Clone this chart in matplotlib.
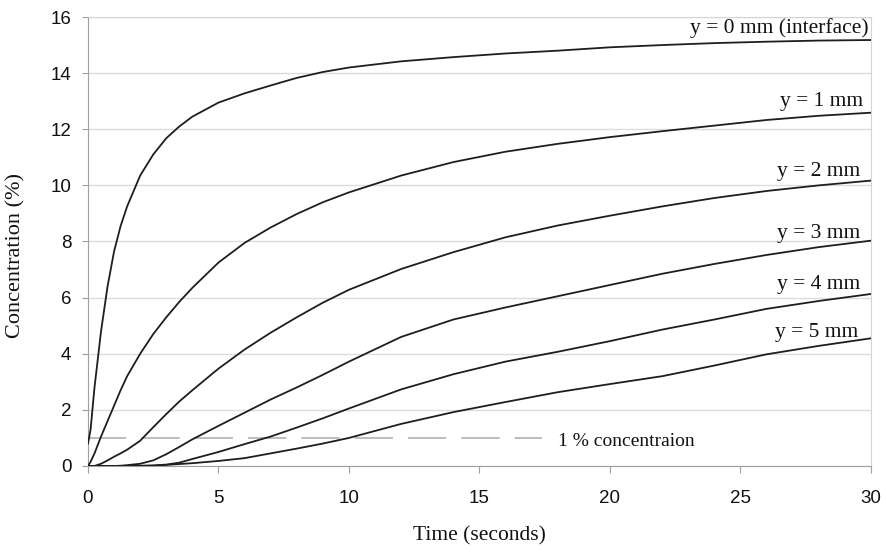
import matplotlib
matplotlib.use("Agg")
import matplotlib.pyplot as plt

# ── 読み取り値（時間[s] と 濃度[%]） ──
t = [0, 0.1, 0.25, 0.5, 0.75, 1, 1.25, 1.5, 2, 2.5, 3, 3.5, 4, 5, 6, 7, 8, 9,
     10, 12, 14, 16, 18, 20, 22, 24, 26, 28, 30]

c_y0 = [0.8, 1.3, 2.8, 4.8, 6.4, 7.65, 8.55, 9.25, 10.35, 11.1, 11.68, 12.1,
        12.45, 12.95, 13.28, 13.56, 13.83, 14.04, 14.2, 14.42, 14.57, 14.7,
        14.8, 14.92, 15.0, 15.07, 15.12, 15.16, 15.18]
c_y1 = [0, 0.15, 0.45, 1.05, 1.6, 2.15, 2.7, 3.2, 4.0, 4.7, 5.3, 5.85,
        6.35, 7.25, 7.95, 8.5, 8.98, 9.4, 9.75, 10.35, 10.83, 11.2,
        11.48, 11.72, 11.93, 12.13, 12.33, 12.48, 12.59]
c_y2 = [0, 0, 0, 0.08, 0.2, 0.33, 0.45, 0.58, 0.9, 1.38, 1.85, 2.3,
        2.7, 3.47, 4.15, 4.75, 5.3, 5.82, 6.28, 7.02, 7.62, 8.15,
        8.57, 8.92, 9.25, 9.55, 9.8, 10.0, 10.17]
c_y3 = [0, 0, 0, 0, 0, 0, 0.01, 0.03, 0.08, 0.2, 0.42, 0.68,
        0.95, 1.43, 1.9, 2.37, 2.8, 3.25, 3.72, 4.6, 5.22, 5.65,
        6.05, 6.45, 6.85, 7.2, 7.52, 7.8, 8.03]
c_y4 = [0, 0, 0, 0, 0, 0, 0, 0, 0.01, 0.02, 0.05, 0.12,
        0.25, 0.5, 0.78, 1.05, 1.37, 1.7, 2.05, 2.73, 3.27, 3.72,
        4.07, 4.45, 4.86, 5.22, 5.6, 5.88, 6.13]
c_y5 = [0, 0, 0, 0, 0, 0, 0, 0, 0, 0.01, 0.04, 0.07,
        0.1, 0.18, 0.28, 0.45, 0.62, 0.8, 1.0, 1.5, 1.92, 2.28,
        2.63, 2.92, 3.2, 3.58, 3.98, 4.28, 4.55]

series = [c_y0, c_y1, c_y2, c_y3, c_y4, c_y5]
labels = ["y = 0 mm (interface)", "y = 1 mm", "y = 2 mm",
          "y = 3 mm", "y = 4 mm", "y = 5 mm"]
# ラベル位置（右端 x, ベースライン y）
label_x = [29.9, 29.7, 29.6, 29.6, 29.6, 29.5]
label_y = [15.42, 12.83, 10.35, 8.14, 6.3, 4.61]

limit_t = [0, 17.4]
limit_c = [1, 1]

serif = ["Liberation Serif", "DejaVu Serif"]
sans = ["Liberation Sans", "DejaVu Sans"]

fig = plt.figure(figsize=(8.86, 5.52), dpi=100)
ax = fig.add_axes([0.0993, 0.1558, 0.8837, 0.8134])

for vals, lab, lx, ly in zip(series, labels, label_x, label_y):
    ax.plot(t, vals, color="#1e1e1e", linewidth=1.3, zorder=3)
    ax.text(lx, ly, lab, ha="right", va="baseline", fontsize=15.5,
            family=serif, color="#111111")

ax.plot(limit_t, limit_c, color="#b0b0b0", linewidth=1.2,
        dashes=(23, 9), zorder=2)
ax.text(18.0, 0.71, "1 % concentraion", ha="left", va="baseline",
        fontsize=14, family=serif, color="#111111")

ax.set_xlim(0, 30)
ax.set_ylim(0, 16)
ax.set_xticks(range(0, 31, 5))
ax.set_yticks(range(0, 17, 2))
ax.yaxis.grid(True, color="#dcdcdc", linewidth=1)
ax.set_axisbelow(True)

for lab in ax.get_xticklabels() + ax.get_yticklabels():
    lab.set_family(sans)
ax.tick_params(axis="x", direction="out", length=5, pad=12, labelsize=13.5,
               color="#a0a0a0", labelcolor="#111111")
ax.tick_params(axis="y", direction="out", length=4, pad=8, labelsize=13.5,
               color="#a0a0a0", labelcolor="#111111")

for side in ["left", "bottom"]:
    ax.spines[side].set_color("#a0a0a0")
for side in ["top", "right"]:
    ax.spines[side].set_color("#d4d4d4")

ax.set_xlabel("Time (seconds)", fontsize=15.5, family=serif, color="#111111")
ax.set_ylabel("Concentration (%)", fontsize=16, family=serif, color="#111111")
ax.xaxis.set_label_coords(0.5, -0.135)
ax.yaxis.set_label_coords(-0.08, 0.468)

fig.savefig("out.png", dpi=100)
